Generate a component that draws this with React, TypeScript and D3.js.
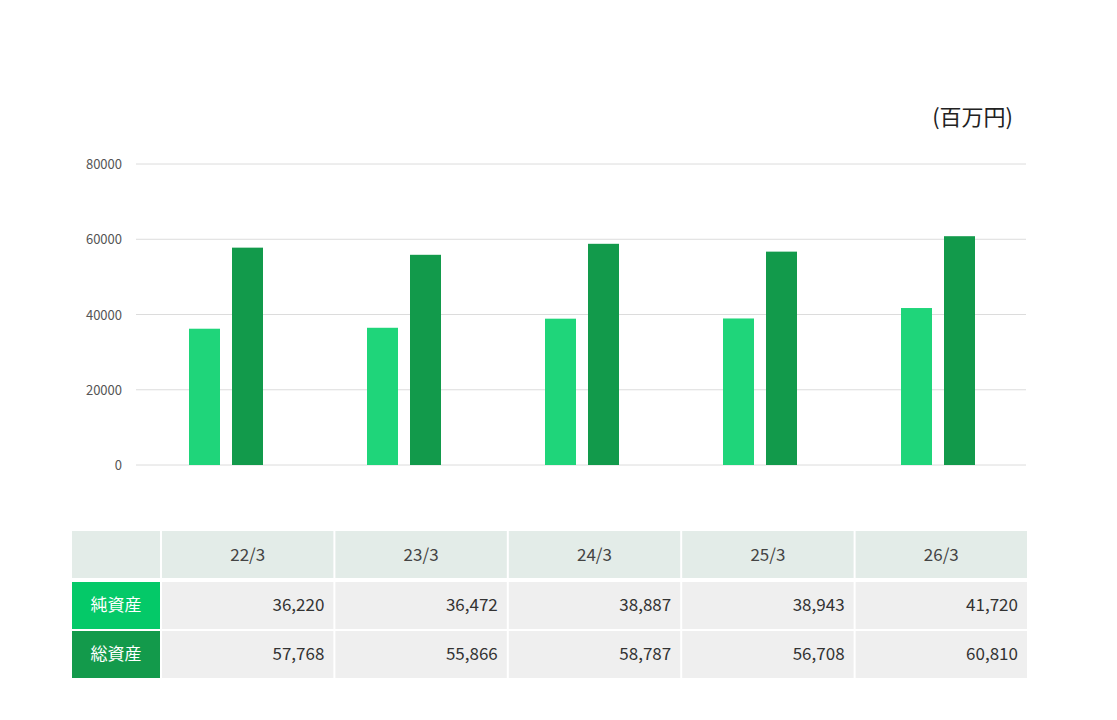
import React from 'react';
import * as d3 from 'd3';

const periods = ['22/3', '23/3', '24/3', '25/3', '26/3'];
const netAssets = [36220, 36472, 38887, 38943, 41720];
const totalAssets = [57768, 55866, 58787, 56708, 60810];
const yTicks = [0, 20000, 40000, 60000, 80000];
const rowLabels = ['純資産', '総資産'];

const font = "'Noto Sans CJK JP', 'Noto Sans', sans-serif";

const App: React.FC = () => {
  const x = d3.scaleBand<string>().domain(periods).range([136, 1026]);
  const y = d3.scaleLinear().domain([0, 80000]).range([465, 164]);
  const fmt = d3.format(',');
  const colX = d3.scaleBand<string>().domain(periods).range([162, 1029]);
  const rows = [netAssets, totalAssets];
  const rowY = [582, 631];
  const rowColors = ['#04c968', '#139a4b'];

  return (
    <svg width={1117} height={720} style={{ position: 'absolute', left: 0, top: 0 }} fontFamily={font}>
      <rect width={1117} height={720} fill="#fff" />
      <text x={1013} y={125} textAnchor="end" fontSize={22} fill="#222">(百万円)</text>
      {yTicks.map(t => (
        <g key={t}>
          <line x1={136} x2={1026} y1={y(t)} y2={y(t)} stroke="#dcdcdc" />
          <text x={122} y={y(t) + 5} textAnchor="end" fontSize={13} fill="#555">{t}</text>
        </g>
      ))}
      {periods.map((p, i) => {
        const c = x(p)! + x.bandwidth() / 2;
        return (
          <g key={p}>
            <rect x={c - 36} y={y(netAssets[i])} width={31} height={y(0) - y(netAssets[i])} fill="#1fd57a" />
            <rect x={c + 7} y={y(totalAssets[i])} width={31} height={y(0) - y(totalAssets[i])} fill="#129a4b" />
          </g>
        );
      })}
      <rect x={72} y={531} width={88} height={47} fill="#e3ece8" />
      {periods.map(p => (
        <g key={p}>
          <rect x={colX(p)!} y={531} width={colX.bandwidth() - 2} height={47} fill="#e3ece8" />
          <text x={colX(p)! + colX.bandwidth() / 2 - 1} y={561} textAnchor="middle" fontSize={17} fill="#444">{p}</text>
        </g>
      ))}
      {rows.map((vals, r) => (
        <g key={r}>
          <rect x={72} y={rowY[r]} width={88} height={47} fill={rowColors[r]} />
          <text x={116} y={rowY[r] + 29} textAnchor="middle" fontSize={17} fill="#fff">{rowLabels[r]}</text>
          {periods.map((p, i) => (
            <g key={p}>
              <rect x={colX(p)!} y={rowY[r]} width={colX.bandwidth() - 2} height={47} fill="#efefef" />
              <text x={colX(p)! + colX.bandwidth() - 11} y={rowY[r] + 29} textAnchor="end" fontSize={17} fill="#333">{fmt(vals[i])}</text>
            </g>
          ))}
        </g>
      ))}
    </svg>
  );
};

export default App;
